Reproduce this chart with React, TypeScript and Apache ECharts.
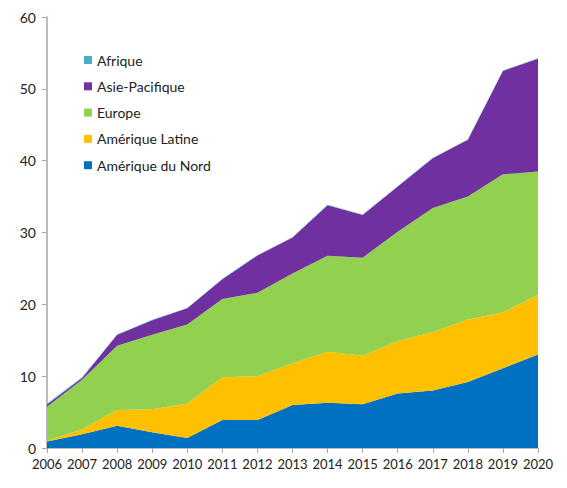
import React, { useEffect, useRef } from "react";
import * as echarts from "echarts";

const years = ["2006","2007","2008","2009","2010","2011","2012","2013","2014","2015","2016","2017","2018","2019","2020"];
const ameriqueNord = [0.9, 1.9, 3.1, 2.2, 1.4, 3.9, 3.9, 6.0, 6.3, 6.1, 7.6, 8.0, 9.2, 11.1, 13.0];
const ameriqueLatine = [0.1, 0.7, 2.2, 3.2, 4.8, 5.95, 6.1, 5.8, 7.1, 6.75, 7.3, 8.15, 8.7, 7.8, 8.35];
const europe = [4.75, 6.9, 8.95, 10.35, 11.0, 10.9, 11.6, 12.5, 13.35, 13.65, 15.2, 17.25, 17.1, 19.2, 17.15];
const asiePacifique = [0.3, 0.25, 1.5, 2.05, 2.25, 2.75, 5.2, 5.0, 7.05, 5.95, 6.3, 6.95, 7.9, 14.4, 15.7];
const afrique = [0.1, 0.1, 0.05, 0.05, 0.05, 0.05, 0.05, 0.05, 0.05, 0.05, 0.05, 0.05, 0.05, 0.05, 0.05];
const yTicks = { min: 0, max: 60, interval: 10 };

const FONT = "Lato";

export default function App() {
  const ref = useRef<HTMLDivElement>(null);
  useEffect(() => {
    const chart = echarts.init(ref.current!, null, { renderer: "svg" });
    const mk = (name: string, data: number[], color: string) => ({
      name,
      type: "line",
      stack: "total",
      data,
      symbol: "none",
      lineStyle: { width: 0 },
      areaStyle: { color, opacity: 1 },
      itemStyle: { color },
    });
    chart.setOption({
      animation: false,
      textStyle: { fontFamily: FONT },
      grid: { left: 47, right: 29, top: 17, bottom: 40 },
      legend: {
        orient: "vertical",
        left: 79,
        top: 48,
        itemWidth: 8,
        itemHeight: 8,
        itemGap: 12.3,
        icon: "rect",
        textStyle: { fontFamily: FONT, fontSize: 14, color: "#222" },
        data: ["Afrique", "Asie-Pacifique", "Europe", "Amérique Latine", "Amérique du Nord"],
      },
      xAxis: {
        type: "category",
        data: years,
        boundaryGap: false,
        axisLine: { lineStyle: { color: "#A6A6A6", width: 1.5 } },
        axisTick: { show: true, length: 5, interval: 0, lineStyle: { color: "#A6A6A6" } },
        axisLabel: { color: "#222", fontSize: 13, fontFamily: FONT, margin: 9, interval: 0 },
        splitLine: { show: false },
      },
      yAxis: {
        type: "value",
        min: yTicks.min,
        max: yTicks.max,
        interval: yTicks.interval,
        axisLine: { show: true, lineStyle: { color: "#A6A6A6", width: 1.5 } },
        axisTick: { show: true, length: 5, lineStyle: { color: "#A6A6A6" } },
        axisLabel: { color: "#222", fontSize: 14, fontFamily: FONT, margin: 11 },
        splitLine: { show: false },
      },
      series: [
        mk("Amérique du Nord", ameriqueNord, "#0070C0"),
        mk("Amérique Latine", ameriqueLatine, "#FFC000"),
        mk("Europe", europe, "#92D050"),
        mk("Asie-Pacifique", asiePacifique, "#7030A0"),
        mk("Afrique", afrique, "#4BACC6"),
      ],
    });
    return () => chart.dispose();
  }, []);
  return (
    <div
      ref={ref}
      style={{ position: "fixed", left: 0, top: 0, width: 567, height: 488, background: "#fff" }}
    />
  );
}
